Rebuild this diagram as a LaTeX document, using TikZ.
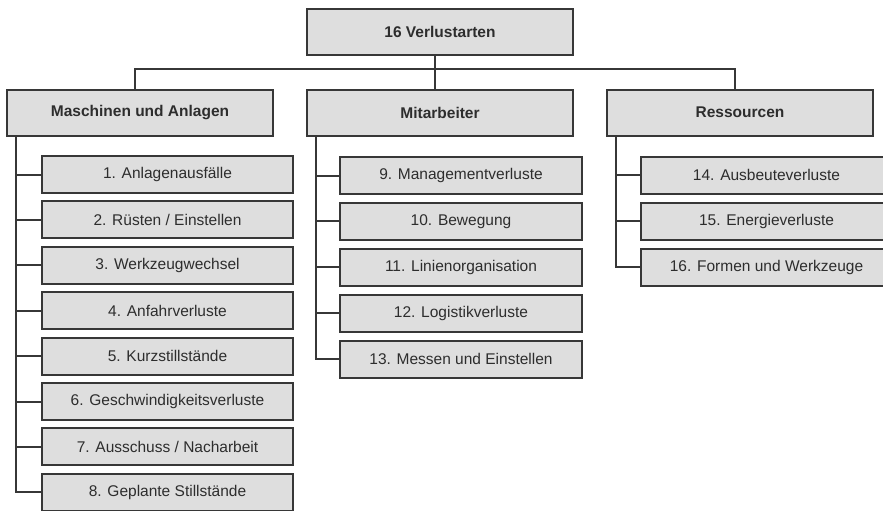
\documentclass[tikz,border=0pt]{standalone}
\usepackage{fontspec}
\setmainfont{Liberation Sans}
\usetikzlibrary{calc}
\definecolor{BoxClr}{RGB}{222,222,222}
\definecolor{LineClr}{RGB}{55,55,55}
\definecolor{TextClr}{RGB}{45,45,45}

\begin{document}
\begin{tikzpicture}[x=1pt,y=-1pt,
  headbox/.style={draw=LineClr,fill=BoxClr,line width=2pt,minimum width=266pt,
    minimum height=46pt,inner sep=0pt,text=TextClr,
    font=\fontsize{15.5}{18}\selectfont\bfseries},
  itembox/.style={draw=LineClr,fill=BoxClr,line width=2pt,minimum height=37pt,
    inner sep=0pt,text=TextClr,font=\fontsize{15.5}{18}\selectfont},
  link/.style={draw=LineClr,line width=2pt}]
\useasboundingbox (0,0) rectangle (883,511);
\clip (0,0) rectangle (883,511);

% top and first level
\node[headbox] (root) at (440,32) {16 Verlustarten};
\node[headbox] (masch) at (140,112.5) {Maschinen und Anlagen};
\node[headbox] (mitarb) at (440,112.5) {Mitarbeiter};
\node[headbox] (ress) at (740,112.5) {Ressourcen};

\coordinate (bar) at (0,69);
\draw[link] ([xshift=-5pt]root.south) -- ([xshift=-5pt]root.south |- bar);
\draw[link] ([xshift=-5pt]masch.north) |- ([xshift=-5pt]ress.north |- bar)
  -- ([xshift=-5pt]ress.north);
\draw[link] ([xshift=-5pt]mitarb.north) -- ([xshift=-5pt]mitarb.north |- bar);

% Maschinen und Anlagen
\foreach \lbl [count=\i] in {1. Anlagenausfälle,2. Rüsten / Einstellen,
    3. Werkzeugwechsel,4. Anfahrverluste,5. Kurzstillstände,
    6. Geschwindigkeitsverluste,7. Ausschuss / Nacharbeit,8. Geplante Stillstände}
  \node[itembox,minimum width=251pt] (m\i) at (167.5,{174.5+45.4*(\i-1)}) {\lbl};

% Mitarbeiter
\foreach \lbl [count=\i] in {9. Managementverluste,10. Bewegung,
    11. Linienorganisation,12. Logistikverluste,13. Messen und Einstellen}
  \node[itembox,minimum width=242pt] (p\i) at (461,{175.5+45.9*(\i-1)}) {\lbl};

% Ressourcen
\foreach \lbl [count=\i] in {14. Ausbeuteverluste,15. Energieverluste,
    16. Formen und Werkzeuge}
  \node[itembox,minimum width=251pt] (r\i) at (766.5,{175+46*(\i-1)}) {\lbl};

\coordinate (mrail) at (16,0);
\coordinate (prail) at (316,0);
\coordinate (rrail) at (616,0);

\draw[link] (masch.south -| mrail) |- (m8.west);
\foreach \i in {1,...,7}
  \draw[link] (m\i.west -| mrail) -- (m\i.west);

\draw[link] (mitarb.south -| prail) |- (p5.west);
\foreach \i in {1,...,4}
  \draw[link] (p\i.west -| prail) -- (p\i.west);

\draw[link] (ress.south -| rrail) |- (r3.west);
\foreach \i in {1,2}
  \draw[link] (r\i.west -| rrail) -- (r\i.west);
\end{tikzpicture}
\end{document}
